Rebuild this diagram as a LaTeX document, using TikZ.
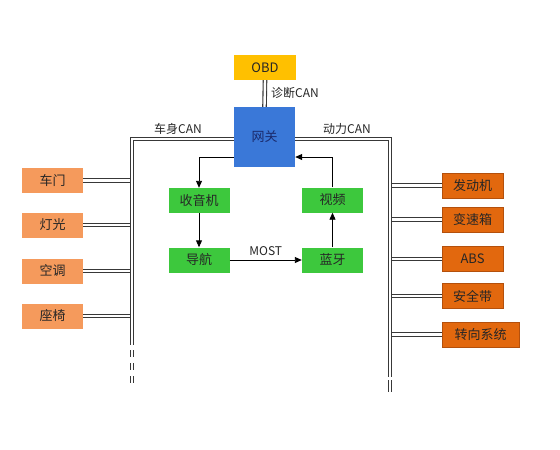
\documentclass[tikz,border=0pt]{standalone}
\usepackage{fontspec}
\setmainfont{Noto Sans CJK SC}
\usetikzlibrary{arrows.meta}
\definecolor{obdY}{HTML}{FFC000}
\definecolor{gwB}{HTML}{3A78D8}
\definecolor{gwT}{HTML}{1A2A6C}
\definecolor{lOr}{HTML}{F59A5C}
\definecolor{rOr}{HTML}{E2680E}
\definecolor{rOrB}{HTML}{B4500C}
\definecolor{gr}{HTML}{3DC83D}
\definecolor{busC}{HTML}{383838}
\tikzset{
  box/.style={minimum width=61pt,minimum height=25pt,inner sep=0pt,font=\fontsize{13}{14}\selectfont,text=black!85},
  lbox/.style={box,fill=lOr},
  rbox/.style={box,fill=rOr,draw=rOrB,line width=0.6pt},
  gbox/.style={box,fill=gr},
  bus/.style={draw=busC,line width=1.1pt,double=white,double distance=2.4pt},
  busdash/.style={bus,dash pattern=on 7pt off 6pt},
  arr/.style={draw=black,line width=0.9pt,-{Triangle[length=7pt,width=6pt]}},
  lab/.style={font=\fontsize{12}{13}\selectfont,text=black!85,inner sep=0pt}
}
\begin{document}
\begin{tikzpicture}[x=1pt,y=-1pt]
\useasboundingbox (0,0) rectangle (560,450);
% nodes
\node[box,fill=obdY,minimum width=62pt] (obd) at (265,67.5) {OBD};
\node[box,fill=gwB,minimum width=61pt,minimum height=60pt,text=gwT] (gw) at (264.5,137) {网关};
\node[lbox] (l1) at (52.5,180.5) {车门};
\node[lbox] (l2) at (52.5,225) {灯光};
\node[lbox] (l3) at (52.5,271) {空调};
\node[lbox] (l4) at (52.5,316) {座椅};
\node[rbox] (r1) at (472.5,185.5) {发动机};
\node[rbox] (r2) at (472.5,219.5) {变速箱};
\node[rbox] (r3) at (472.5,259) {ABS};
\node[rbox] (r4) at (472.5,296) {安全带};
\node[rbox,minimum width=77pt] (r5) at (480.5,334.5) {转向系统};
\node[gbox] (radio) at (199,200.5) {收音机};
\node[gbox] (nav) at (199,260) {导航};
\node[gbox] (video) at (332.5,200) {视频};
\node[gbox] (bt) at (332.5,260) {蓝牙};
% bus coordinates
\coordinate (lcorner) at (132,139);
\coordinate (lend) at (132,345);
\coordinate (ldash) at (132,385);
\coordinate (rcorner) at (390,139);
\coordinate (rend) at (390,377);
\coordinate (rdash) at (390,392);
% branches
\foreach \n in {l1,l2,l3,l4}{\draw[bus] (\n.east) -- (\n.east -| lcorner);}
\foreach \n in {r1,r2,r3,r4,r5}{\draw[bus] (\n.west) -- (\n.west -| rcorner);}
% buses
\draw[bus] (gw.west |- lcorner) -- (lcorner) -- (lend);
\draw[busdash,dash phase=-5pt] (lend) -- (ldash);
\draw[bus] (gw.east |- rcorner) -- (rcorner) -- (rend);
\draw[bus,dash pattern=on 12pt off 4pt,dash phase=-3pt] (rend) -- (rdash);
\draw[bus] (obd.south) -- (gw.north);
% labels
\node[lab,anchor=west] (ldiag) at (271,93) {诊断CAN};
\node[lab] (lbody) at (178,129) {车身CAN};
\node[lab] (lpow) at (347,129) {动力CAN};
% arrows
\draw[arr] ([yshift=-20pt]gw.west) -| (radio.north);
\draw[arr] (radio.south) -- (nav.north);
\draw[arr] (nav.east) -- (bt.west) node[lab,midway,above=4pt] (most) {MOST};
\draw[arr] (bt.north) -- (video.south);
\draw[arr] (video.north) |- ([yshift=-20pt]gw.east);
\end{tikzpicture}
\end{document}
